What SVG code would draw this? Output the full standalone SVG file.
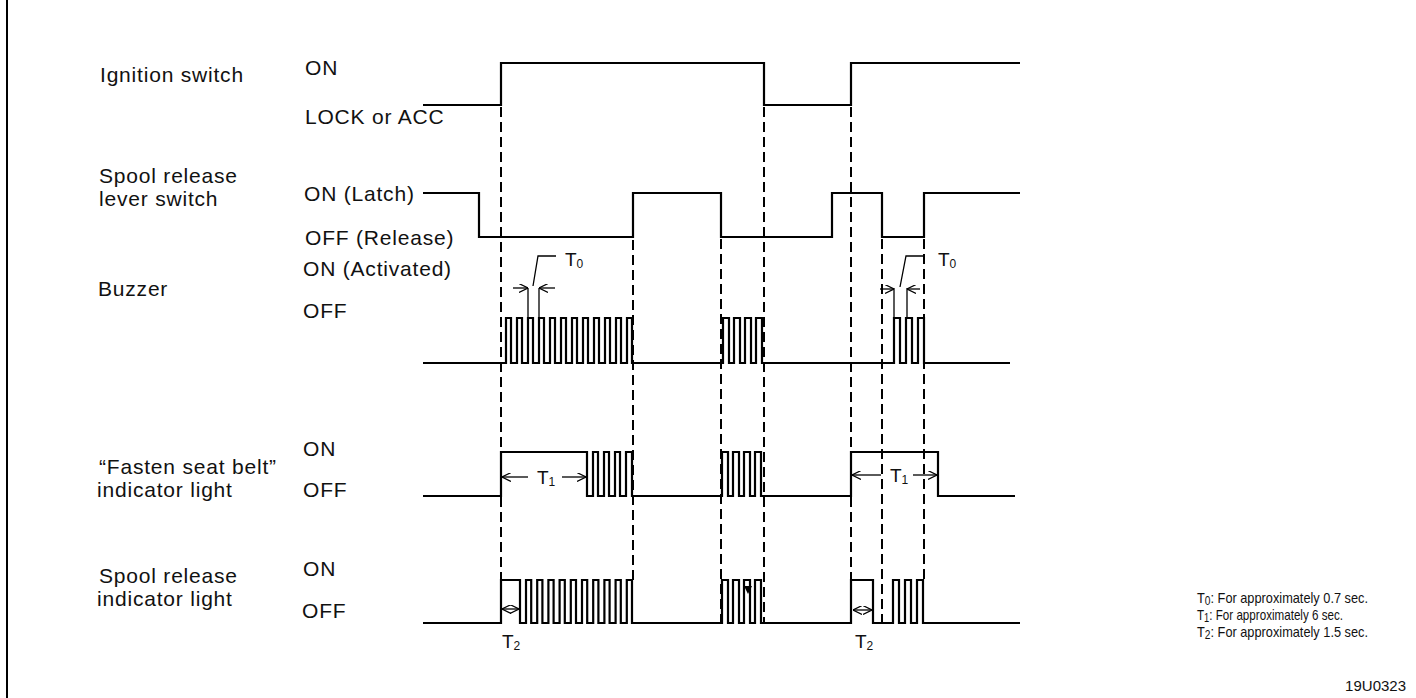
<svg xmlns="http://www.w3.org/2000/svg" width="1416" height="698" viewBox="0 0 1416 698">
<defs>
<style>
.lbl{font-family:"Liberation Sans",Arial,sans-serif;font-size:21px;fill:#111;letter-spacing:0.8px}
.tl{font-family:"Liberation Sans",Arial,sans-serif;font-size:19px;fill:#111}
.sub{font-size:12px}
.leg{font-family:"Liberation Sans",Arial,sans-serif;font-size:15px;fill:#111}
.wave{fill:none;stroke:#000;stroke-width:2.2;stroke-linejoin:miter}
.dash{fill:none;stroke:#000;stroke-width:2;stroke-dasharray:10,5}
.dim{fill:none;stroke:#000;stroke-width:1.3}
</style>
<marker id="ah" viewBox="0 0 10 10" refX="10" refY="5" markerWidth="9" markerHeight="9" markerUnits="userSpaceOnUse" orient="auto-start-reverse">
<path d="M0,0 L10,5 L0,10" fill="none" stroke="#000" stroke-width="1.3"/>
</marker>
</defs>
<rect width="1416" height="698" fill="#fff"/>
<line x1="7" y1="0" x2="7" y2="698" stroke="#000" stroke-width="2"/>

<g id="labels">
<text class="lbl" x="100" y="82">Ignition switch</text>
<text class="lbl" x="305" y="75">ON</text>
<text class="lbl" x="305" y="124">LOCK or ACC</text>
<text class="lbl" x="99" y="183">Spool release</text>
<text class="lbl" x="99" y="206">lever switch</text>
<text class="lbl" x="304" y="201">ON (Latch)</text>
<text class="lbl" x="305" y="245">OFF (Release)</text>
<text class="lbl" x="98" y="296">Buzzer</text>
<text class="lbl" x="303" y="276">ON (Activated)</text>
<text class="lbl" x="303" y="318">OFF</text>
<text class="lbl" x="99" y="474">“Fasten seat belt”</text>
<text class="lbl" x="97" y="497">indicator light</text>
<text class="lbl" x="303" y="456">ON</text>
<text class="lbl" x="303" y="497">OFF</text>
<text class="lbl" x="99" y="583">Spool release</text>
<text class="lbl" x="97" y="606">indicator light</text>
<text class="lbl" x="303" y="576">ON</text>
<text class="lbl" x="302" y="618">OFF</text>
</g>

<g id="ignition-switch">
<path class="wave" d="M423,105 H501 V63 H764 V105 H851 V63 H1020"/>
</g>
<g id="spool-release-lever-switch">
<path class="wave" d="M423,193 H479 V237 H633 V193 H721 V237 H832 V193 H882 V237 H924 V193 H1020"/>
</g>
<g id="buzzer">
<path class="wave" d="M423,363 H506 V318 H511 V363 H517 V318 H522 V363 H528 V318 H533 V363 H539 V318 H544 V363 H550 V318 H555 V363 H561 V318 H566 V363 H572 V318 H577 V363 H583 V318 H588 V363 H594 V318 H599 V363 H605 V318 H610 V363 H616 V318 H621 V363 H627 V318 H632 V363 H723 V318 H729 V363 H734 V318 H740 V363 H745 V318 H751 V363 H756 V318 H762 V363 H894 V318 H900 V363 H906 V318 H912 V363 H918 V318 H924 V363 H1010"/>
</g>
<g id="fasten-seat-belt-light">
<path class="wave" d="M423,496 H501 V452 H587 V496 H593 V452 H598 V496 H604 V452 H609 V496 H615 V452 H620 V496 H626 V452 H632 V496 H722 V452 H728 V496 H733 V452 H739 V496 H744 V452 H750 V496 H755 V452 H761 V496 H851 V452 H938 V496 H1015"/>
</g>
<g id="spool-release-indicator-light">
<path class="wave" d="M423,623 H501 V580 H520 V623 H526 V580 H531.2 V623 H537.2 V580 H542.4 V623 H548.4 V580 H553.6 V623 H559.6 V580 H564.8 V623 H570.8 V580 H576 V623 H582 V580 H587.2 V623 H593.2 V580 H598.4 V623 H604.4 V580 H609.6 V623 H615.6 V580 H620.8 V623 H626.8 V580 H632 V623 H722 V580 H728 V623 H733 V580 H739 V623 H744 V580 H750 V623 H755 V580 H761 V623 H851 V580 H873 V623 H893 V580 H899 V623 H905 V580 H911 V623 H917 V580 H923 V623 H1020"/>
<path d="M744,586 L752,586 L748,594 Z" fill="#000"/>
</g>

<g id="connectors">
<line class="dash" x1="501" y1="107" x2="501" y2="580"/>
<line class="dash" x1="633" y1="195" x2="633" y2="580"/>
<line class="dash" x1="721" y1="239" x2="721" y2="623"/>
<line class="dash" x1="764" y1="107" x2="764" y2="623"/>
<line class="dash" x1="851" y1="107" x2="851" y2="580"/>
<line class="dash" x1="882" y1="239" x2="882" y2="623"/>
<line class="dash" x1="924" y1="239" x2="924" y2="580"/>

<line class="dim" x1="528" y1="288" x2="528" y2="318"/>
<line class="dim" x1="539" y1="288" x2="539" y2="318"/>
<line class="dim" x1="513" y1="288" x2="528" y2="288" marker-end="url(#ah)"/>
<line class="dim" x1="555" y1="288" x2="539" y2="288" marker-end="url(#ah)"/>
<polyline class="dim" points="533,286 538,256 556,256"/>
<line class="dim" x1="894" y1="288" x2="894" y2="318"/>
<line class="dim" x1="907" y1="288" x2="907" y2="318"/>
<line class="dim" x1="880" y1="289" x2="894" y2="289" marker-end="url(#ah)"/>
<line class="dim" x1="920" y1="289" x2="907" y2="289" marker-end="url(#ah)"/>
<polyline class="dim" points="900,287 906,256 924,256"/>
<line class="dim" x1="528" y1="477" x2="502" y2="477" marker-end="url(#ah)"/>
<line class="dim" x1="562" y1="477" x2="586" y2="477" marker-end="url(#ah)"/>
<line class="dim" x1="881" y1="475" x2="852" y2="475" marker-end="url(#ah)"/>
<line class="dim" x1="913" y1="475" x2="937" y2="475" marker-end="url(#ah)"/>
<line class="dim" x1="502" y1="609" x2="519" y2="609" marker-start="url(#ah)" marker-end="url(#ah)"/>
<line class="dim" x1="853" y1="610" x2="872" y2="610" marker-start="url(#ah)" marker-end="url(#ah)"/>
</g>

<g id="time-labels">
<text class="tl" x="565" y="266">T<tspan class="sub" dy="2">0</tspan></text>
<text class="tl" x="938" y="266">T<tspan class="sub" dy="2">0</tspan></text>
<text class="tl" x="537" y="484">T<tspan class="sub" dy="2">1</tspan></text>
<text class="tl" x="890" y="482">T<tspan class="sub" dy="2">1</tspan></text>
<text class="tl" x="502" y="648">T<tspan class="sub" dy="2">2</tspan></text>
<text class="tl" x="855" y="648">T<tspan class="sub" dy="2">2</tspan></text>
</g>

<g id="legend">
<text class="leg" x="1197" y="603" textLength="171" lengthAdjust="spacingAndGlyphs">T<tspan class="sub" dy="2">0</tspan><tspan dy="-2">: For approximately 0.7 sec.</tspan></text>
<text class="leg" x="1197" y="620" textLength="146" lengthAdjust="spacingAndGlyphs">T<tspan class="sub" dy="2">1</tspan><tspan dy="-2">: For approximately 6 sec.</tspan></text>
<text class="leg" x="1197" y="637" textLength="171" lengthAdjust="spacingAndGlyphs">T<tspan class="sub" dy="2">2</tspan><tspan dy="-2">: For approximately 1.5 sec.</tspan></text>
<text class="leg" x="1406" y="691" text-anchor="end" font-size="15">19U0323</text>
</g>
</svg>
